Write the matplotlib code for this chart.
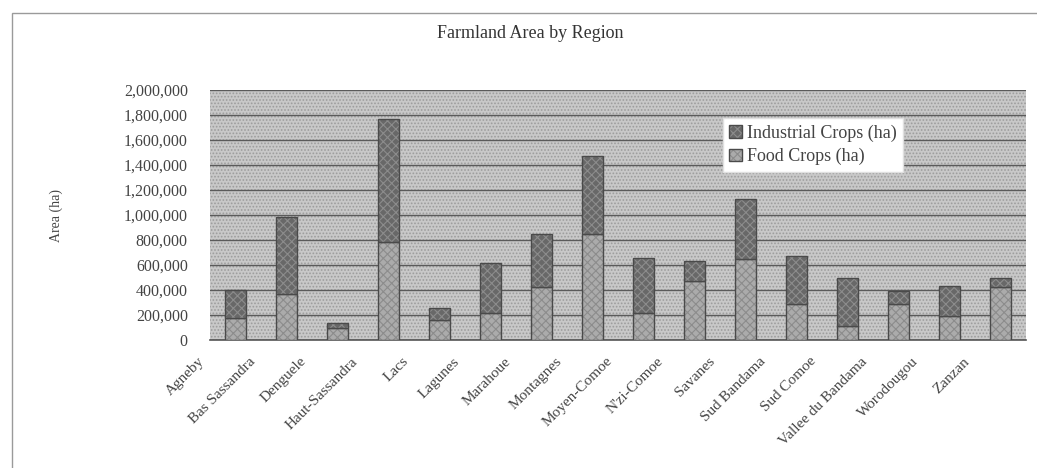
import matplotlib
matplotlib.use("Agg")
import matplotlib.pyplot as plt
import matplotlib.transforms as mtransforms
from matplotlib.patches import Rectangle
from matplotlib.ticker import FuncFormatter, MultipleLocator
import numpy as np

regions = ["Agneby", "Bas Sassandra", "Denguele", "Haut-Sassandra", "Lacs", "Lagunes",
           "Marahoue", "Montagnes", "Moyen-Comoe", "N'zi-Comoe", "Savanes", "Sud Bandama",
           "Sud Comoe", "Vallee du Bandama", "Worodougou", "Zanzan"]
food_crops = [180000, 365000, 95000, 785000, 160000, 215000, 425000, 845000,
              215000, 470000, 650000, 290000, 110000, 290000, 195000, 425000]
industrial_crops = [220000, 620000, 45000, 980000, 100000, 405000, 420000, 625000,
                    445000, 165000, 475000, 385000, 390000, 105000, 235000, 75000]

plt.rcParams['font.family'] = ['Liberation Serif', 'DejaVu Serif']
plt.rcParams['hatch.linewidth'] = 0.8

W, H = 1037, 468
fig = plt.figure(figsize=(W / 100, H / 100), dpi=100)
fig.patch.set_facecolor('white')

# outer frame
fig.patches.append(Rectangle((12 / W, -0.05), 1.2, 1 - 13 / H + 0.05, transform=fig.transFigure,
                             fill=False, edgecolor='#9a9a9a', linewidth=1.0))

ax = fig.add_axes([210 / W, 1 - 340 / H, (1026 - 210) / W, (340 - 90) / H])
ax.set_facecolor('#c4c4c4')
bg = Rectangle((0, 0), 1, 1, transform=ax.transAxes, facecolor='#c8c8c8',
               edgecolor='#9c9c9c', hatch='.....', linewidth=0, zorder=0)
ax.add_patch(bg)

x = np.arange(len(regions))
bw = 0.43
b1 = ax.bar(x, food_crops, bw, color='#ababab', edgecolor='#4a4a4a', linewidth=1.0,
            hatch='xxxx', label='Food Crops (ha)', zorder=3)
b2 = ax.bar(x, industrial_crops, bw, bottom=food_crops, color='#686868', edgecolor='#4a4a4a',
            linewidth=1.0, hatch='xxxx', label='Industrial Crops (ha)', zorder=3)
for p in list(b1) + list(b2):
    p._hatch_color = (0.55, 0.55, 0.55, 1.0)

ax.set_xlim(-0.5, len(regions) - 0.5)
ax.set_ylim(0, 2000000)
ax.yaxis.set_major_locator(MultipleLocator(200000))
ax.yaxis.set_major_formatter(FuncFormatter(lambda v, p: f"{int(v):,}"))
ax.grid(axis='y', color='#5a5a5a', linewidth=1.0, zorder=1)
ax.set_axisbelow(True)
for s in ['top', 'right', 'left']:
    ax.spines[s].set_visible(False)
ax.spines['bottom'].set_color('#555555')
ax.spines['bottom'].set_linewidth(1.2)

ax.tick_params(axis='y', length=0, pad=16, labelsize=11.5, labelcolor='#444444')
ax.tick_params(axis='x', length=0, pad=14, labelsize=11, labelcolor='#444444')
ax.set_xticks(x)
ax.set_xticklabels(regions)
offset = mtransforms.ScaledTranslation(-0.33, 0, fig.dpi_scale_trans)
for lab in ax.get_xticklabels():
    lab.set_rotation(45)
    lab.set_ha('right')
    lab.set_va('center')
    lab.set_rotation_mode('anchor')
    lab.set_transform(lab.get_transform() + offset)

ax.set_ylabel('Area (ha)', fontsize=10, color='#444444')
ax.yaxis.set_label_coords((63 - 210) / 816, 0.5)

fig.text(530 / W, 1 - 33 / H, 'Farmland Area by Region', ha='center', va='center',
         fontsize=13, color='#333333')

handles = [b2, b1]
leg = ax.legend(handles, ['Industrial Crops (ha)', 'Food Crops (ha)'], loc='upper left',
                bbox_to_anchor=((723 - 210) / 816, (340 - 118) / 250), frameon=True,
                fancybox=False, facecolor='white', edgecolor='#e0e0e0', framealpha=1,
                fontsize=13, handlelength=0.7, handleheight=0.7, handletextpad=0.3,
                borderpad=0.35, labelspacing=0.35, borderaxespad=0)
for t in leg.get_texts():
    t.set_color('#444444')
leg.set_zorder(5)

fig.savefig('out.png', dpi=100)
